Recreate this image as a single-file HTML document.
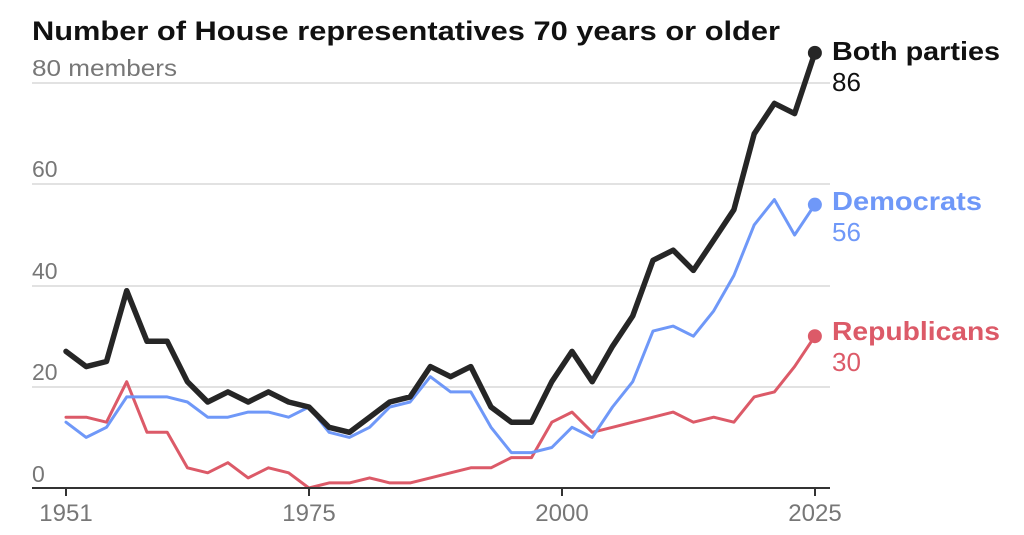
<!DOCTYPE html>
<html><head><meta charset="utf-8"><style>
html,body{margin:0;padding:0;background:#fff;}
svg{display:block;font-family:"Liberation Sans",Arial,sans-serif;}
</style></head><body>
<svg id="c" width="1024" height="535" viewBox="0 0 1024 535" xmlns="http://www.w3.org/2000/svg">
<text x="32" y="40" font-size="27" font-weight="bold" fill="#111" textLength="748" lengthAdjust="spacingAndGlyphs">Number of House representatives 70 years or older</text>
<g stroke="#e2e2e2" stroke-width="2">
<line x1="32" x2="830" y1="83" y2="83"/>
<line x1="32" x2="830" y1="184" y2="184"/>
<line x1="32" x2="830" y1="286" y2="286"/>
<line x1="32" x2="830" y1="387" y2="387"/>
</g>
<g font-size="23" fill="#777">
<text x="32" y="76" textLength="145" lengthAdjust="spacingAndGlyphs">80 members</text>
<text x="32" y="177">60</text>
<text x="32" y="279">40</text>
<text x="32" y="380">20</text>
<text x="32" y="482">0</text>
</g>
<g id="lines"></g>
<line x1="32" x2="830" y1="488" y2="488" stroke="#333" stroke-width="2"/>
<g stroke="#333" stroke-width="2">
<line x1="66" x2="66" y1="488" y2="496"/>
<line x1="309" x2="309" y1="488" y2="496"/>
<line x1="562" x2="562" y1="488" y2="496"/>
<line x1="815" x2="815" y1="488" y2="496"/>
</g>
<g font-size="24" fill="#777" text-anchor="middle">
<text x="66" y="521">1951</text>
<text x="309" y="521">1975</text>
<text x="562" y="521">2000</text>
<text x="815" y="521">2025</text>
</g>
<g font-size="26">
<text x="832" y="60" font-weight="bold" fill="#111" textLength="168" lengthAdjust="spacingAndGlyphs">Both parties</text>
<text x="832" y="91" fill="#111">86</text>
<text x="832" y="210" font-weight="bold" fill="#6f98f8" textLength="150" lengthAdjust="spacingAndGlyphs">Democrats</text>
<text x="832" y="241" fill="#6f98f8">56</text>
<text x="832" y="340" font-weight="bold" fill="#dc5a68" textLength="168" lengthAdjust="spacingAndGlyphs">Republicans</text>
<text x="832" y="371" fill="#dc5a68">30</text>
</g>
</svg>
<script>
var both=[27,24,25,39,29,29,21,17,19,17,19,17,16,12,11,14,17,18,24,22,24,16,13,13,21,27,21,28,34,45,47,43,49,55,70,76,74,86];
var dem=[13,10,12,18,18,18,17,14,14,15,15,14,16,11,10,12,16,17,22,19,19,12,7,7,8,12,10,16,21,31,32,30,35,42,52,57,50,56];
var rep=[14,14,13,21,11,11,4,3,5,2,4,3,0,1,1,2,1,1,2,3,4,4,6,6,13,15,11,12,13,14,15,13,14,13,18,19,24,30];
function X(i){return 66+(2*i)*10.12;}
function Y(v){return 488-v*5.06;}
var g=document.getElementById('lines'),h='';
function line(d,c,w){var p=d.map(function(v,i){return X(i).toFixed(1)+','+Y(v).toFixed(1)}).join(' ');
h+='<polyline points="'+p+'" fill="none" stroke="'+c+'" stroke-width="'+w+'" stroke-linejoin="round" stroke-linecap="round"/>';
var n=d.length-1;h+='<circle cx="'+X(n)+'" cy="'+Y(d[n])+'" r="7" fill="'+c+'"/>';}
line(rep,'#dc5a68',3);line(dem,'#6f98f8',3);line(both,'#262626',5.5);
g.innerHTML=h;
</script>
</body></html>
